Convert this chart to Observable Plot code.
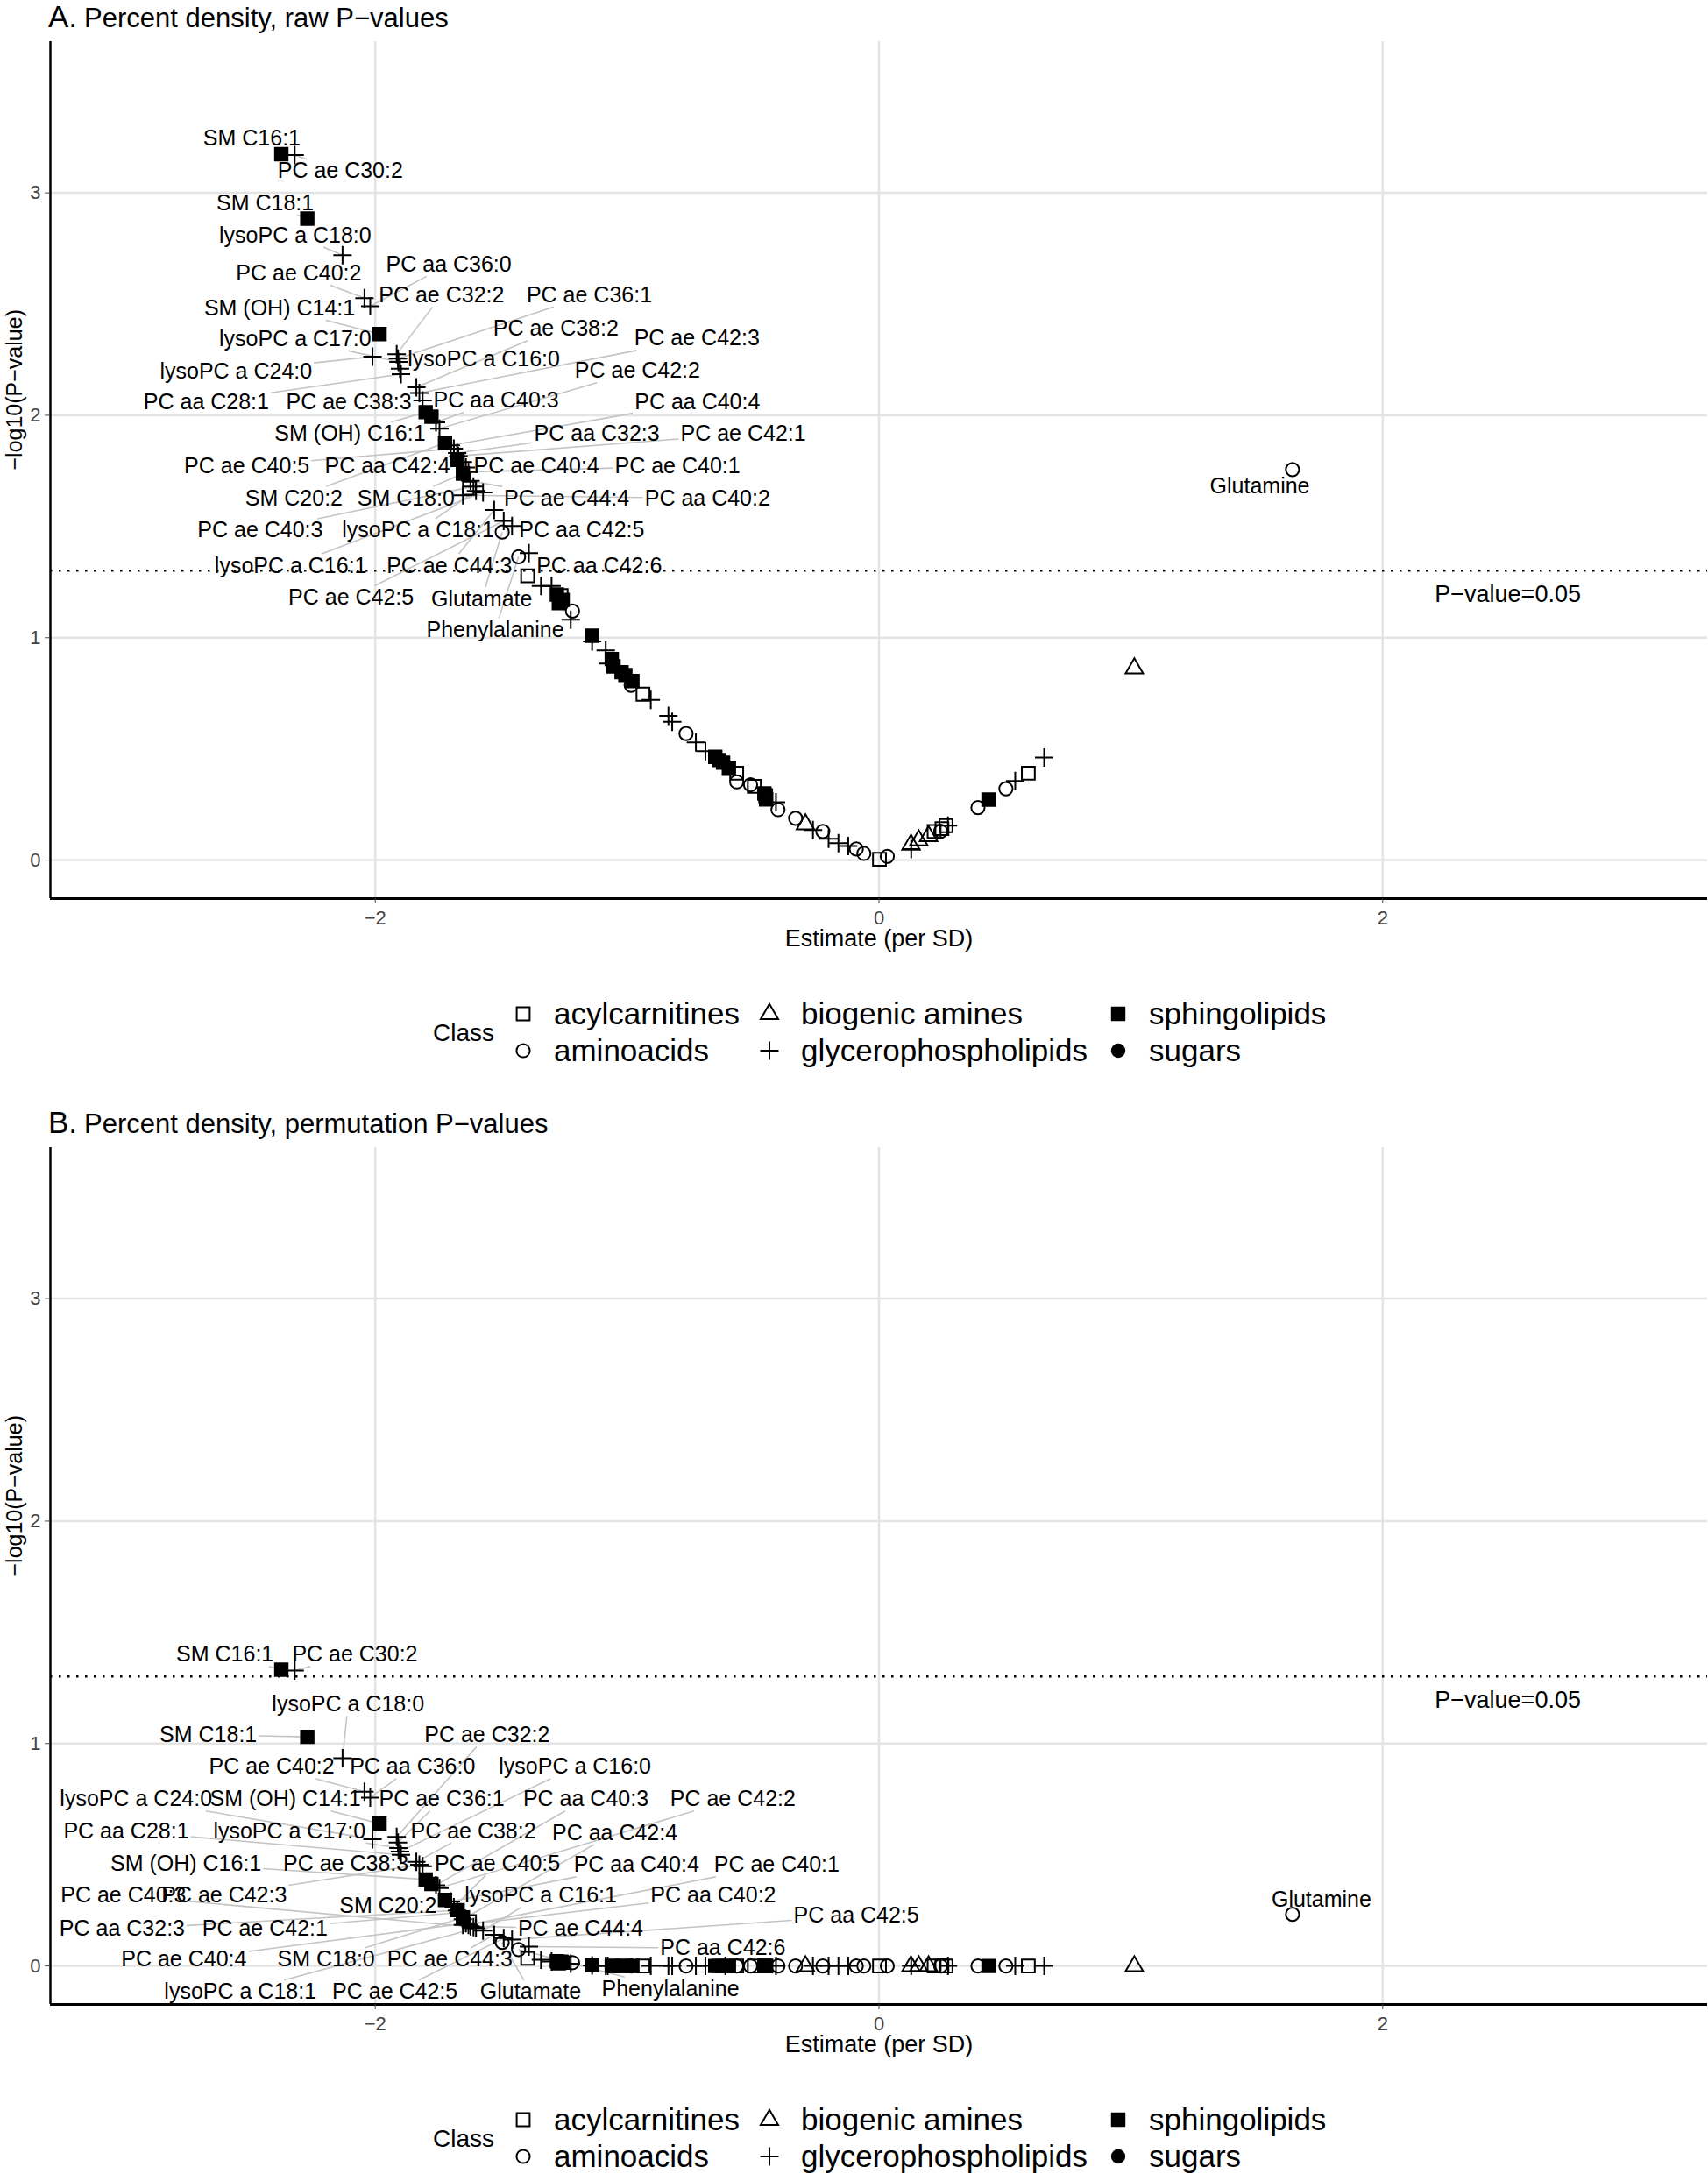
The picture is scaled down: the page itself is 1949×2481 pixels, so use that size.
<!DOCTYPE html>
<html><head><meta charset="utf-8">
<script src="https://cdn.jsdelivr.net/npm/d3@7"></script>
<script src="https://cdn.jsdelivr.net/npm/@observablehq/plot@0.6"></script>
<style>
html,body{margin:0;padding:0;background:#fff;overflow:hidden;}
#root{position:relative;width:1949px;height:2481px;overflow:hidden;font-family:"Liberation Sans",Arial,Helvetica,sans-serif;color:#000;}
.ttl{position:absolute;left:55px;white-space:nowrap;line-height:36px;}
.ttl .lt{font-size:35px;}
.ttl .tx{font-size:31px;margin-left:8px;}
.abs{position:absolute;left:0;}
</style></head><body><div id="root"></div>
<script>
// ---------------- data ----------------
const metabolite = [
"SM C16:1","PC ae C30:2","SM C18:1","lysoPC a C18:0","PC ae C40:2","PC aa C36:0","lysoPC a C24:0","SM (OH) C14:1",
"PC ae C32:2","PC ae C36:1","lysoPC a C17:0","lysoPC a C16:0","PC aa C28:1","PC ae C38:2","PC ae C42:3","PC ae C38:3",
"SM (OH) C16:1","","PC aa C40:3","PC ae C42:2","SM C20:2","PC aa C40:4","PC ae C40:5","PC aa C32:3","",
"PC ae C42:1","PC aa C42:4","SM C18:0","PC ae C40:4","PC ae C40:1","","PC ae C44:4","PC aa C40:2","PC ae C40:3",
"lysoPC a C18:1","lysoPC a C16:1","PC ae C44:3","Glutamate","PC ae C42:5","PC aa C42:5","Phenylalanine","PC aa C42:6",
"","","","","","","","","","","","","","","","","","","","","","","","","","","","","","","","","","","","","","","","","",
"","","","","","","","","","","","","","","","","","","","","","","","","","","","","Glutamine"];
const metClass = [
"SL","GP","SL","GP","GP","GP","GP","SL",
"GP","GP","GP","GP","GP","GP","GP","GP",
"SL","SL","GP","GP","SL","GP","GP","GP","SL",
"GP","GP","SL","GP","GP","AC","GP","GP","GP",
"GP","GP","GP","AA","GP","GP","AA","GP",
"AC","GP","GP","SL","AC","SL","SL","AA","GP","SL","GP","GP","SL","GP","SL","SL","SL","SL","AA","AC","GP","GP","GP","AA","GP","GP","SL","SL","SL","GP","SL","AC","AA","AA","AC","SL","AC","SL","GP",
"AA","AA","BA","GP","AA","GP","GP","GP","AA","AA","AC","AA","BA","GP","BA","BA","AC","AA","AC","AC","GP","AA","SL","AA","GP","AC","GP","BA","AA"];
const estimate = [
-2.373,-2.320,-2.270,-2.130,-2.043,-2.020,-2.011,-1.983,
-1.915,-1.910,-1.908,-1.902,-1.898,-1.837,-1.825,-1.812,
-1.800,-1.777,-1.759,-1.745,-1.723,-1.700,-1.688,-1.675,-1.673,
-1.670,-1.652,-1.652,-1.640,-1.630,-1.626,-1.622,-1.652,-1.610,
-1.600,-1.572,-1.528,-1.496,-1.490,-1.457,-1.431,-1.390,
-1.395,-1.342,-1.300,-1.279,-1.262,-1.256,-1.271,-1.217,-1.224,-1.139,-1.139,-1.085,-1.061,-1.077,-1.054,-1.022,-1.007,-0.979,-0.984,-0.937,-0.906,-0.836,-0.821,-0.766,-0.727,-0.689,-0.650,-0.635,-0.619,-0.610,-0.596,-0.565,-0.565,-0.510,-0.495,-0.455,-0.450,-0.448,-0.409,
-0.401,-0.331,-0.292,-0.262,-0.223,-0.200,-0.161,-0.122,-0.090,-0.060,0.002,0.033,0.127,0.128,0.158,0.197,0.219,0.245,0.250,0.266,0.274,0.393,0.435,0.504,0.541,0.593,0.656,1.014,1.642];
const logPraw = [
3.174,3.170,2.884,2.720,2.527,2.490,2.264,2.365,
2.275,2.255,2.240,2.210,2.185,2.126,2.100,2.067,
2.014,1.994,1.968,1.940,1.876,1.865,1.850,1.830,1.800,
1.817,1.790,1.738,1.765,1.745,1.672,1.705,1.640,1.680,
1.660,1.653,1.574,1.475,1.525,1.502,1.364,1.380,
1.278,1.232,1.232,1.194,1.190,1.170,1.155,1.120,1.081,1.009,0.983,0.943,0.904,0.884,0.871,0.845,0.832,0.805,0.786,0.746,0.720,0.648,0.622,0.569,0.529,0.490,0.464,0.450,0.438,0.430,0.411,0.391,0.352,0.339,0.332,0.300,0.290,0.273,0.260,
0.227,0.188,0.162,0.135,0.129,0.096,0.076,0.063,0.050,0.030,0.004,0.017,0.070,0.050,0.090,0.109,0.129,0.130,0.142,0.155,0.155,0.236,0.272,0.321,0.356,0.391,0.461,0.863,1.756];
const logPperm = [
1.332,1.328,1.030,0.934,0.783,0.757,0.570,0.640,
0.580,0.555,0.530,0.514,0.500,0.468,0.455,0.448,
0.389,0.369,0.363,0.350,0.297,0.290,0.264,0.250,0.251,
0.240,0.210,0.218,0.192,0.185,0.200,0.179,0.185,0.175,
0.170,0.159,0.140,0.106,0.125,0.119,0.074,0.087,
0.034,0.028,0.020,0.021,0.018,0.015,0.012,0.015,0.010,0.003,0.002,0,0,0,0,0,0,0,0,0,0,0,0,0,0,0,0,0,0,0,0,0,0,0,0,0,0,0,0,
0,0,0,0,0,0,0,0,0,0,0,0,0,0,0,0,0,0,0,0,0,0,0,0,0,0,0,0,0.232];

// repelled label positions (data units)
const labelName = ["SM C16:1","PC ae C30:2","SM C18:1","lysoPC a C18:0","PC ae C40:2","PC aa C36:0","SM (OH) C14:1","PC ae C32:2","PC ae C36:1","lysoPC a C17:0","PC ae C38:2","PC ae C42:3","lysoPC a C24:0","lysoPC a C16:0","PC ae C42:2","PC aa C28:1","PC ae C38:3","PC aa C40:3","PC aa C40:4","SM (OH) C16:1","PC aa C32:3","PC ae C42:1","PC ae C40:5","PC aa C42:4","PC ae C40:4","PC ae C40:1","SM C20:2","SM C18:0","PC ae C44:4","PC aa C40:2","PC ae C40:3","lysoPC a C18:1","PC aa C42:5","lysoPC a C16:1","PC ae C44:3","PC aa C42:6","PC ae C42:5","Glutamate","Phenylalanine","Glutamine"];
const labelAx = [-2.49,-2.139,-2.437,-2.318,-2.304,-1.708,-2.38,-1.737,-1.15,-2.318,-1.283,-0.723,-2.553,-1.569,-0.959,-2.671,-2.105,-1.52,-0.721,-2.10,-1.12,-0.539,-2.51,-1.952,-1.36,-0.80,-2.323,-1.878,-1.24,-0.681,-2.457,-1.83,-1.18,-2.336,-1.706,-1.111,-2.096,-1.577,-1.524,1.512];
const labelAy = [3.243,3.098,2.954,2.809,2.638,2.678,2.48,2.54,2.54,2.343,2.389,2.345,2.198,2.25,2.2,2.06,2.06,2.067,2.06,1.916,1.916,1.916,1.771,1.771,1.771,1.771,1.627,1.627,1.627,1.627,1.482,1.482,1.482,1.324,1.324,1.324,1.18,1.173,1.035,1.679];
const labelBx = [-2.597,-2.081,-2.663,-2.108,-2.411,-1.852,-2.357,-1.556,-1.736,-2.341,-1.611,-2.60,-2.95,-1.207,-0.58,-2.989,-2.117,-1.164,-0.963,-2.752,-3.005,-2.438,-1.515,-1.049,-2.76,-0.406,-1.949,-2.195,-1.185,-0.658,-3.00,-2.536,-0.09,-1.343,-1.704,-0.62,-1.922,-1.383,-0.828,1.757];
const labelBy = [1.40,1.40,1.039,1.177,0.895,0.895,0.75,1.039,0.75,0.606,0.606,0.317,0.75,0.895,0.75,0.606,0.461,0.75,0.454,0.461,0.166,0.166,0.461,0.599,0.028,0.454,0.271,0.028,0.166,0.317,0.317,-0.117,0.225,0.317,0.028,0.08,-0.117,-0.117,-0.103,0.297];

const classNames = {AC:"acylcarnitines", AA:"aminoacids", BA:"biogenic amines", GP:"glycerophospholipids", SL:"sphingolipids", SU:"sugars"};
const legendOrder = ["AC","AA","BA","GP","SL","SU"];
const xTicks = [-2, 0, 2];
const yTicks = [0, 1, 2, 3];
const pThreshold = 0.05;
const thresholdText = "P\u2212value=0.05";
const thresholdTextPos = [2.497, 1.194];
const panels = [
  {letter:"A.", title:"Percent density, raw P\u2212values", values: logPraw, lx: labelAx, ly: labelAy},
  {letter:"B.", title:"Percent density, permutation P\u2212values", values: logPperm, lx: labelBx, ly: labelBy}
];

// ---------------- layout / style ----------------
const W = 1949, H = 1110, ML = 57, MR = 1, MT = 47, MB = 85;
const xd = [-3.29, 3.29], yd = [-0.173, 3.68];
const PANEL_OFFSET = 1262;
const FONT = "'Liberation Sans', Arial, Helvetica, sans-serif";
const LABEL_FS = 25;
const kx = (W - ML - MR) / (xd[1] - xd[0]);
const ky = (H - MT - MB) / (yd[1] - yd[0]);
const tickFmt = d3.format("d");

const ctx2d = document.createElement("canvas").getContext("2d");
ctx2d.font = `${LABEL_FS}px ${FONT}`;
const measure = s => ctx2d.measureText(s).width;

const R = s => Math.sqrt(s / Math.PI);
const plusSym = {draw(c, s){const r=R(s); c.moveTo(-r,0); c.lineTo(r,0); c.moveTo(0,-r); c.lineTo(0,r);}};
const squareSym = {draw(c, s){const r=R(s); c.rect(-r,-r,2*r,2*r);}};
const circleSym = {draw(c, s){const r=R(s); c.moveTo(r,0); c.arc(0,0,r,0,2*Math.PI);}};
const triSym = {draw(c, s){const r=R(s); c.moveTo(0,-r*1.12); c.lineTo(r,r*0.6); c.lineTo(-r,r*0.6); c.closePath();}};
const shapeOf = {
  AC:{symbol:squareSym, r:7.4, fill:"none", stroke:"black"},
  AA:{symbol:circleSym, r:7.6, fill:"none", stroke:"black"},
  BA:{symbol:triSym, r:10, fill:"none", stroke:"black"},
  GP:{symbol:plusSym, r:10.5, fill:"none", stroke:"black"},
  SL:{symbol:squareSym, r:7.2, fill:"black", stroke:"black"},
  SU:{symbol:circleSym, r:7.2, fill:"black", stroke:"black"}
};

const root = document.getElementById("root");

function buildPanel(p, off) {
  const t = document.createElement("div");
  t.className = "ttl"; t.style.top = (off + 1) + "px";
  t.innerHTML = `<span class="lt">${p.letter}</span><span class="tx">${p.title}</span>`;
  root.appendChild(t);

  const pts = estimate.map((e, i) => ({x: e, y: p.values[i], cls: metClass[i]}));
  const labs = labelName.map((n, i) => {
    const j = metabolite.indexOf(n);
    return {name: n, px: estimate[j], py: p.values[j], lx: p.lx[i], ly: p.ly[i]};
  });
  const segs = [];
  for (const l of labs) {
    const hw = measure(l.name) / 2 + 2, hh = LABEL_FS * 0.5 + 1;
    const dxp = (l.px - l.lx) * kx, dyp = (l.py - l.ly) * ky;
    if (Math.abs(dxp) <= hw && Math.abs(dyp) <= hh) continue;
    const s = Math.min(hw / Math.max(Math.abs(dxp), 1e-9), hh / Math.max(Math.abs(dyp), 1e-9));
    const len = Math.hypot(dxp, dyp) * (1 - s);
    if (len < 8) continue;
    segs.push({x1: l.px, y1: l.py, x2: l.lx + (l.px - l.lx) * s, y2: l.ly + (l.py - l.ly) * s});
  }

  const dotMarks = Object.keys(shapeOf).map(c => Plot.dot(pts.filter(d => d.cls === c), {
    x: "x", y: "y", symbol: shapeOf[c].symbol, r: shapeOf[c].r,
    fill: shapeOf[c].fill, stroke: shapeOf[c].stroke, strokeWidth: 2
  }));

  const chart = Plot.plot({
    width: W, height: H, marginLeft: ML, marginRight: MR, marginTop: MT, marginBottom: MB,
    x: {domain: xd}, y: {domain: yd},
    style: {fontFamily: FONT, background: "transparent", overflow: "visible"},
    marks: [
      Plot.ruleX(xTicks, {stroke: "#e4e4e4", strokeWidth: 2.5}),
      Plot.ruleY(yTicks, {stroke: "#e4e4e4", strokeWidth: 2.5}),
      Plot.ruleY([-Math.log10(pThreshold)], {stroke: "black", strokeWidth: 2.5, strokeDasharray: "2.5,7.5"}),
      Plot.link(segs, {x1: "x1", y1: "y1", x2: "x2", y2: "y2", stroke: "#c4c4c4", strokeWidth: 1.6}),
      Plot.ruleX([xd[0]], {stroke: "black", strokeWidth: 2.5}),
      Plot.ruleY([yd[0]], {stroke: "black", strokeWidth: 3}),
      Plot.axisX({ticks: xTicks, tickFormat: tickFmt, tickSize: 6, tickPadding: 8, fontSize: 22, color: "#444", label: null}),
      Plot.axisY({ticks: yTicks, tickFormat: tickFmt, tickSize: 6, tickPadding: 5, fontSize: 22, color: "#444", label: null}),
      ...dotMarks,
      Plot.text(labs, {x: "lx", y: "ly", text: "name", fontSize: LABEL_FS, fill: "black"}),
      Plot.text([thresholdText], {x: thresholdTextPos[0], y: thresholdTextPos[1], text: d => d, fontSize: 27, fill: "black"}),
      Plot.text(["Estimate (per SD)"], {frameAnchor: "bottom", dy: 54, text: d => d, fontSize: 27, fill: "black"}),
      Plot.text(["\u2212log10(P\u2212value)"], {frameAnchor: "left", dx: -41, rotate: -90, text: d => d, fontSize: 25, fill: "black"})
    ]
  });
  chart.classList.add("abs");
  chart.style.top = off + "px";
  root.appendChild(chart);

  // legend
  const lg = d3.create("svg").attr("width", W).attr("height", 130)
    .style("position", "absolute").style("left", "0px").style("top", (off + H) + "px")
    .style("font-family", FONT);
  lg.append("text").attr("x", 494).attr("y", 68).attr("dy", "0.35em").attr("font-size", 28).text("Class");
  const colSym = [597, 878, 1276], colTxt = [632, 914, 1311], rowY = [47, 89];
  legendOrder.forEach((c, i) => {
    const col = Math.floor(i / 2), row = i % 2;
    const sh = shapeOf[c];
    const path = d3.path();
    sh.symbol.draw(path, Math.PI * sh.r * sh.r);
    lg.append("path").attr("d", path.toString())
      .attr("transform", `translate(${colSym[col]},${rowY[row]})`)
      .attr("fill", sh.fill).attr("stroke", sh.stroke).attr("stroke-width", 2);
    lg.append("text").attr("x", colTxt[col]).attr("y", rowY[row]).attr("dy", "0.35em")
      .attr("font-size", 35).text(classNames[c]);
  });
  root.appendChild(lg.node());
}

panels.forEach((p, i) => buildPanel(p, i * PANEL_OFFSET));
</script></body></html>
